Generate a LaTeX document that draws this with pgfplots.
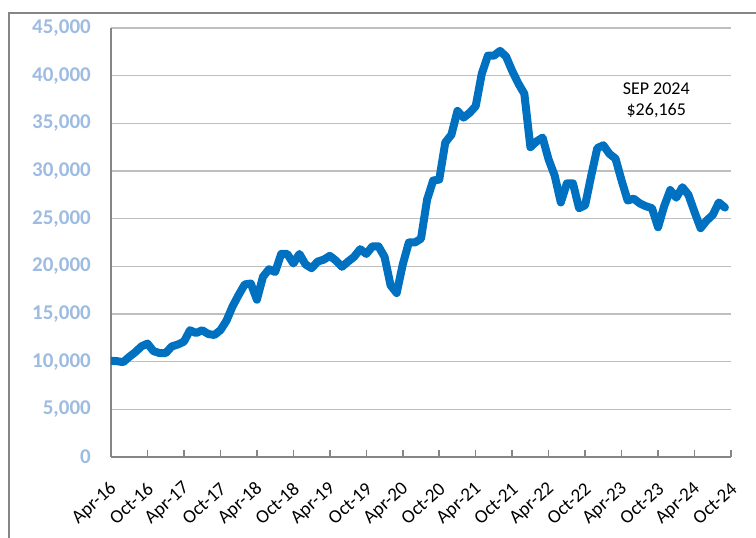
\documentclass[border=0pt]{standalone}
\usepackage{pgfplots}
\pgfplotsset{compat=1.18}
\usepackage{fontspec}
\setmainfont{Carlito}
\definecolor{linecol}{RGB}{0,112,192}
\definecolor{gridcol}{RGB}{191,191,191}
\definecolor{axcol}{RGB}{134,134,134}
\definecolor{ylab}{RGB}{158,187,226}
\begin{document}
\begin{tikzpicture}[x=1pt,y=1pt]
\useasboundingbox (0,0) rectangle (756,538);
\draw[axcol, line width=1.5pt] (9,-20) -- (9,525) -- (790,525);
\begin{axis}[
  at={(111pt,81pt)}, anchor=south west,
  scale only axis, width=620pt, height=429pt,
  xmin=0, xmax=102, ymin=0, ymax=45000,
  axis lines*=left,
  axis line style={axcol, line width=1.5pt},
  xtick={0,6,...,102},
  xticklabels={Apr-16,Oct-16,Apr-17,Oct-17,Apr-18,Oct-18,Apr-19,Oct-19,Apr-20,Oct-20,Apr-21,Oct-21,Apr-22,Oct-22,Apr-23,Oct-23,Apr-24,Oct-24},
  xtick style={axcol, line width=1.5pt},
  major tick length=7pt,
  xticklabel style={font=\fontsize{19}{19}\selectfont, yshift=-29pt, xshift=3pt, rotate=42, anchor=east, inner sep=0pt},
  ytick={0,5000,...,45000},
  yticklabels={0,{5,000},{10,000},{15,000},{20,000},{25,000},{30,000},{35,000},{40,000},{45,000}},
  ytick style={draw=none},
  yticklabel style={font=\fontsize{21}{21}\selectfont\bfseries, text=ylab, anchor=east, inner sep=0pt, xshift=-20pt},
  ymajorgrids, grid style={gridcol, line width=1.5pt},
  scaled y ticks=false,
  clip=true,
]
\addplot[linecol, line width=8pt, line join=round, line cap=round] coordinates {
(0,10100) (1,10050) (2,9950) (3,10500) (4,11000) (5,11600) (6,11900) (7,11100) (8,10900) (9,10900)
(10,11600) (11,11800) (12,12100) (13,13300) (14,13000) (15,13300) (16,12900) (17,12800) (18,13300) (19,14300)
(20,15800) (21,17000) (22,18100) (23,18200) (24,16500) (25,18900) (26,19700) (27,19400) (28,21300) (29,21300)
(30,20300) (31,21300) (32,20200) (33,19800) (34,20500) (35,20700) (36,21100) (37,20600) (38,19950) (39,20500)
(40,21000) (41,21800) (42,21300) (43,22100) (44,22100) (45,21000) (46,18000) (47,17200) (48,20200) (49,22500)
(50,22500) (51,22900) (52,27000) (53,29000) (54,29100) (55,33000) (56,33800) (57,36300) (58,35600) (59,36100)
(60,36800) (61,40200) (62,42100) (63,42100) (64,42600) (65,42000) (66,40500) (67,39200) (68,38100) (69,32500)
(70,33100) (71,33500) (72,31200) (73,29500) (74,26700) (75,28700) (76,28700) (77,26100) (78,26400) (79,29500)
(80,32400) (81,32700) (82,31800) (83,31300) (84,29000) (85,26900) (86,27100) (87,26600) (88,26300) (89,26100)
(90,24100) (91,26300) (92,28000) (93,27200) (94,28300) (95,27500) (96,25700) (97,24000) (98,24800) (99,25400)
(100,26700) (101,26165)
};
\node[font=\fontsize{18}{21}\selectfont, align=center] at (axis cs:89.7,37400) {SEP 2024\\\$26,165};
\end{axis}
\end{tikzpicture}
\end{document}
